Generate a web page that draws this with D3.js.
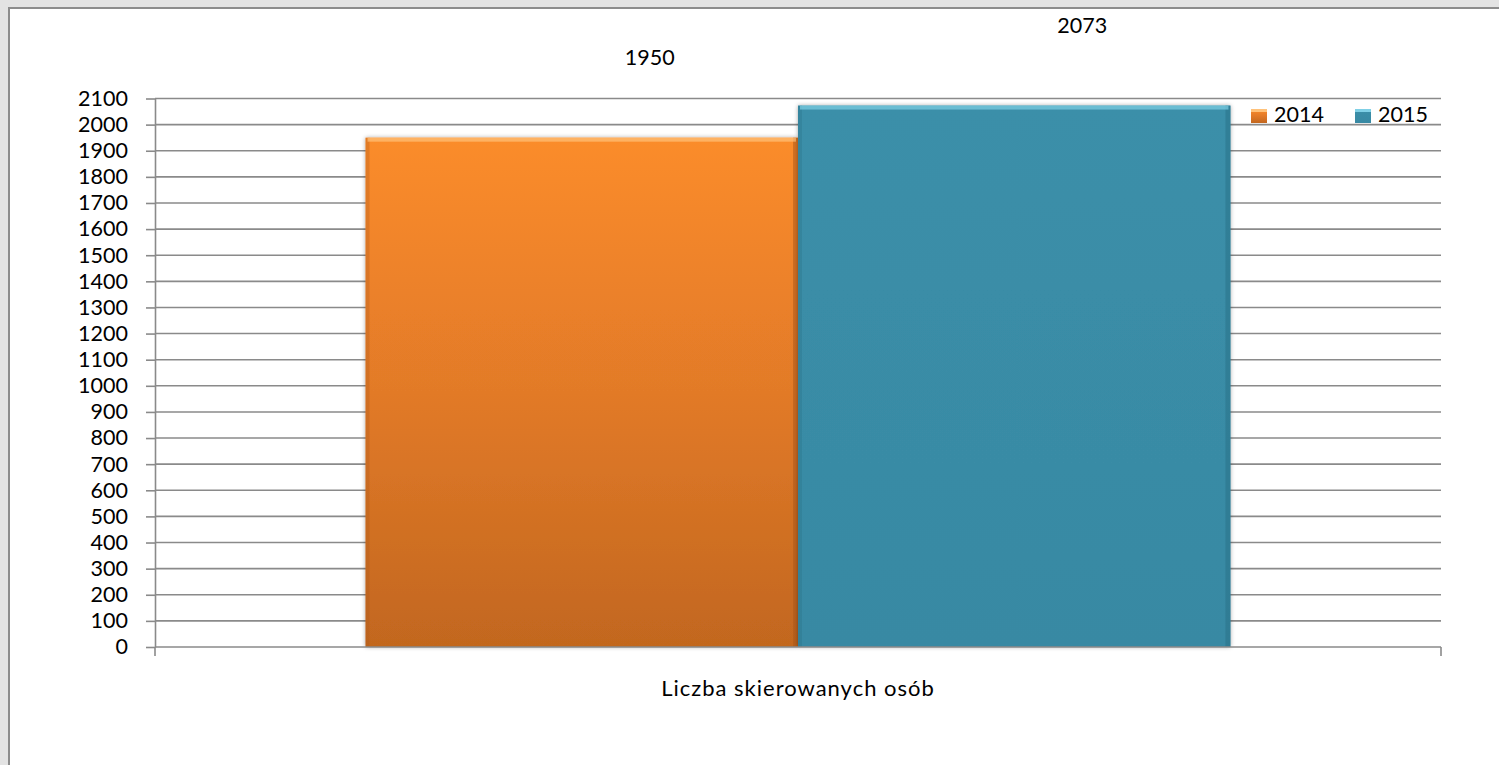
<!DOCTYPE html>
<html>
<head>
<meta charset="utf-8">
<script src="https://cdn.jsdelivr.net/npm/d3@7"></script>
<style>
    html, body { margin: 0; padding: 0; background: #e3e3e3; }
    svg { display: block; }
</style>
</head>
<body>
<div id="chart"></div>
<script>
// data
var category = "Liczba skierowanych osób";
var years = ["2014", "2015"];
var values = [1950, 2073];
var yTicks = d3.range(0, 2101, 100);

var width = 1499, height = 765;
var font = "Lato, 'Open Sans', sans-serif";

var svg = d3.select("#chart").append("svg")
    .attr("width", width)
    .attr("height", height);

// panel with frame
svg.append("rect")
    .attr("x", 9).attr("y", 8)
    .attr("width", width).attr("height", height)
    .attr("fill", "#fff")
    .attr("stroke", "#8c8c8c")
    .attr("stroke-width", 2);

var defs = svg.append("defs");
var gOrange = defs.append("linearGradient").attr("id", "gOrange")
    .attr("x1", 0).attr("y1", 0).attr("x2", 0).attr("y2", 1);
gOrange.append("stop").attr("offset", "0%").attr("stop-color", "#fb8c2b");
gOrange.append("stop").attr("offset", "50%").attr("stop-color", "#e27a28");
gOrange.append("stop").attr("offset", "100%").attr("stop-color", "#c2671f");
var gTeal = defs.append("linearGradient").attr("id", "gTeal")
    .attr("x1", 0).attr("y1", 0).attr("x2", 0).attr("y2", 1);
gTeal.append("stop").attr("offset", "0%").attr("stop-color", "#3b8fa9");
gTeal.append("stop").attr("offset", "100%").attr("stop-color", "#3889a3");
var shadow = defs.append("filter").attr("id", "shadow")
    .attr("x", "-5%").attr("y", "-5%").attr("width", "110%").attr("height", "110%");
shadow.append("feDropShadow").attr("dx", 0).attr("dy", 0).attr("stdDeviation", 2)
    .attr("flood-color", "#000").attr("flood-opacity", 0.35);

var fills = ["url(#gOrange)", "url(#gTeal)"];
var edgeCol = ["#a9561a", "#276f85"];
var hiCol = ["#ffc27a", "#7fd0e6"];

var x0 = 155, x1 = 1441;
var y = d3.scaleLinear().domain([0, 2100]).range([647, 98.5]);
var xCat = d3.scaleBand().domain([category]).range([x0, x1]).paddingInner(0).paddingOuter(0.2434);
var xSer = d3.scaleBand().domain(years).range([0, xCat.bandwidth()]);

// gridlines
svg.append("g")
    .selectAll("line")
    .data(yTicks.filter(d => d > 0))
    .enter().append("line")
    .attr("x1", x0).attr("x2", x1)
    .attr("y1", d => y(d)).attr("y2", d => y(d))
    .attr("stroke", "#8a8a8a")
    .attr("stroke-width", 1.6);

// y axis
var yAxis = svg.append("g")
    .attr("transform", "translate(" + x0 + ",0)")
    .call(d3.axisLeft(y).tickValues(yTicks).tickFormat(d3.format("d"))
        .tickSize(9).tickPadding(18).tickSizeOuter(0));
yAxis.select(".domain").attr("stroke", "#8a8a8a").attr("stroke-width", 1.6);
yAxis.selectAll(".tick line").attr("stroke", "#8a8a8a").attr("stroke-width", 1.6);
yAxis.selectAll("text")
    .attr("fill", "#000")
    .style("font-family", font)
    .style("font-size", "21.5px");

// bars
var bars = svg.append("g")
    .selectAll("g")
    .data(values)
    .enter().append("g")
    .attr("transform", (d, i) => "translate(" + (xCat(category) + xSer(years[i])) + ",0)");

bars.append("rect")
    .attr("x", 0)
    .attr("y", d => y(d))
    .attr("width", xSer.bandwidth())
    .attr("height", d => y(0) - y(d))
    .attr("fill", (d, i) => fills[i])
    .attr("filter", "url(#shadow)");

// bevel edges
bars.append("rect")
    .attr("x", xSer.bandwidth() - 5)
    .attr("y", d => y(d))
    .attr("width", 5)
    .attr("height", d => y(0) - y(d))
    .attr("fill", (d, i) => edgeCol[i])
    .attr("opacity", 0.5);
bars.append("rect")
    .attr("x", 0)
    .attr("y", d => y(d))
    .attr("width", 4)
    .attr("height", d => y(0) - y(d))
    .attr("fill", (d, i) => edgeCol[i])
    .attr("opacity", 0.3);
bars.append("rect")
    .attr("x", 2)
    .attr("y", d => y(d))
    .attr("width", xSer.bandwidth() - 4)
    .attr("height", 4)
    .attr("fill", (d, i) => hiCol[i])
    .attr("opacity", 0.7);

// value labels (placed above, shifted right like in the source)
bars.append("text")
    .attr("x", xSer.bandwidth() / 2 + 68)
    .attr("y", d => y(d) - 78)
    .attr("text-anchor", "middle")
    .attr("dominant-baseline", "middle")
    .style("font-family", font)
    .style("font-size", "21.5px")
    .text(d => d);

// x axis
svg.append("line")
    .attr("x1", x0).attr("x2", x1)
    .attr("y1", y(0)).attr("y2", y(0))
    .attr("stroke", "#8a8a8a").attr("stroke-width", 1.6);
[x0, x1].forEach(function (xx) {
    svg.append("line")
        .attr("x1", xx).attr("x2", xx)
        .attr("y1", y(0)).attr("y2", y(0) + 9)
        .attr("stroke", "#8a8a8a").attr("stroke-width", 1.6);
});

svg.append("text")
    .attr("x", (x0 + x1) / 2)
    .attr("y", 690)
    .attr("text-anchor", "middle")
    .attr("dominant-baseline", "middle")
    .style("font-family", font)
    .style("font-size", "22px")
    .style("letter-spacing", "1px")
    .text(category);

// legend
var legend = svg.append("g")
    .selectAll("g")
    .data(years)
    .enter().append("g")
    .attr("transform", (d, i) => "translate(" + (1251 + i * 104) + ",116)");
legend.append("rect")
    .attr("x", 0).attr("y", -7)
    .attr("width", 16).attr("height", 14)
    .attr("fill", (d, i) => fills[i]);
legend.append("rect")
    .attr("x", 0).attr("y", -7)
    .attr("width", 16).attr("height", 3)
    .attr("fill", (d, i) => hiCol[i]);
legend.append("text")
    .attr("x", 23)
    .attr("y", 1)
    .attr("dominant-baseline", "middle")
    .style("font-family", font)
    .style("font-size", "21.5px")
    .text(d => d);
</script>
</body>
</html>
